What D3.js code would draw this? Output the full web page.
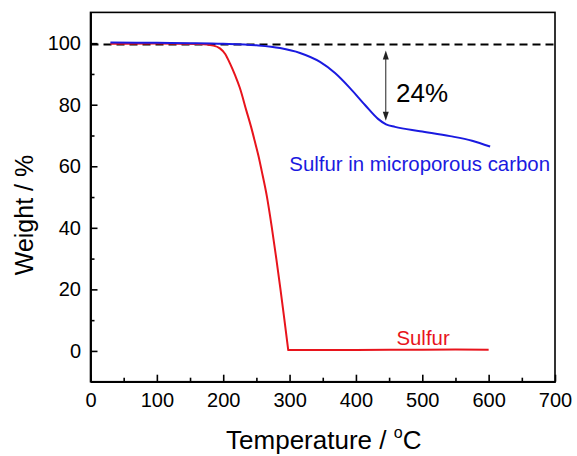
<!DOCTYPE html>
<html>
<head>
<meta charset="utf-8">
<script src="https://cdn.jsdelivr.net/npm/d3@7"></script>
<style>
  html, body { margin: 0; padding: 0; background: #fff; }
  svg { display: block; font-family: "Liberation Sans", Arial, sans-serif; }
</style>
</head>
<body>
<svg id="chart" width="577" height="456"></svg>
<script>
// ---- data ----
const sulfurTemp   = [30, 100, 165, 185, 195, 203, 210, 218, 225, 235, 242, 248, 253, 258, 266, 273, 280, 286, 292, 298, 350, 400, 450, 500, 550, 600];
const sulfurWeight = [99.8, 99.9, 99.7, 99.2, 98.3, 96.5, 93.5, 89.5, 85.5, 78.0, 72.8, 67.8, 63.5, 58.5, 50.0, 40.5, 30.0, 20.5, 10.5, 0.3, 0.3, 0.3, 0.4, 0.4, 0.5, 0.4];
const sulfurKnee = 298; // temperature where the sulfur is fully gone

const compTemp   = [30, 100, 150, 200, 250, 285.6, 315.7, 345.9, 368.5, 391.1, 413.7, 433.3, 445.4, 458.9, 496.6, 541.9, 575, 602.2];
const compWeight = [100.2, 100.1, 100.0, 99.8, 99.3, 98.4, 96.8, 93.9, 90.3, 85.4, 79.9, 75.4, 73.6, 72.8, 71.4, 69.8, 68.3, 66.4];

const referenceWeight = 99.6;
const arrowTemp = 445;
const arrowRange = [97.6, 74.8];

const xMajorTicks = [0, 100, 200, 300, 400, 500, 600, 700];
const xMinorTicks = [50, 150, 250, 350, 450, 550, 650];
const yMajorTicks = [0, 20, 40, 60, 80, 100];
const yMinorTicks = [10, 30, 50, 70, 90];

const labels = [
  { text: "24%", t: 460.4, w: 81.0, size: 26, color: "#000", anchor: "start" },
  { text: "Sulfur in microporous carbon", t: 692.5, w: 58.6, size: 20.4, color: "#1a1ae0", anchor: "end" },
  { text: "Sulfur", t: 461.0, w: 1.9, size: 20.4, color: "#e8141c", anchor: "start" }
];

// ---- layout ----
const svg = d3.select("#chart");
const L = 90.5, R = 555, T = 12.4, B = 381.7;
const x = d3.scaleLinear().domain([0, 700]).range([L, R]);
const y = d3.scaleLinear().domain([-10, 110]).range([B, T]);

// frame
svg.append("rect")
  .attr("x", L).attr("y", T).attr("width", R - L).attr("height", B - T)
  .attr("fill", "none").attr("stroke", "#000").attr("stroke-width", 1.6);

// axes
const xAxis = svg.append("g").attr("transform", `translate(0,${B})`)
  .call(d3.axisBottom(x).tickValues(xMajorTicks).tickSizeInner(-7).tickSizeOuter(0).tickPadding(11));
const xMinor = svg.append("g").attr("transform", `translate(0,${B})`)
  .call(d3.axisBottom(x).tickValues(xMinorTicks).tickSizeInner(-4).tickSizeOuter(0).tickFormat(""));
const yAxis = svg.append("g").attr("transform", `translate(${L},0)`)
  .call(d3.axisLeft(y).tickValues(yMajorTicks).tickSizeInner(-7).tickSizeOuter(0).tickPadding(9.5));
const yMinor = svg.append("g").attr("transform", `translate(${L},0)`)
  .call(d3.axisLeft(y).tickValues(yMinorTicks).tickSizeInner(-4).tickSizeOuter(0).tickFormat(""));

[xAxis, xMinor, yAxis, yMinor].forEach(g => {
  g.select(".domain").attr("stroke", "#000").attr("stroke-width", 1.6);
  g.selectAll(".tick line").attr("stroke", "#000").attr("stroke-width", 1.6);
  g.selectAll(".tick text").attr("fill", "#000").style("font-size", "20px")
    .style("font-family", "'Liberation Sans', Arial, sans-serif");
});

// axis titles
const xt = svg.append("text")
  .attr("x", (L + R) / 2 + 1).attr("y", 449)
  .attr("text-anchor", "middle").style("font-size", "26px").attr("fill", "#000");
xt.append("tspan").text("Temperature / ");
xt.append("tspan").text("o").style("font-size", "16px").attr("dy", -11);
xt.append("tspan").text("C").attr("dy", 11);

svg.append("text")
  .attr("transform", `translate(33,${(T + B) / 2 + 18}) rotate(-90)`)
  .attr("text-anchor", "middle").style("font-size", "25px").attr("fill", "#000")
  .text("Weight / %");

// dashed reference line
svg.append("line")
  .attr("x1", x(0)).attr("x2", x(700))
  .attr("y1", y(referenceWeight)).attr("y2", y(referenceWeight))
  .attr("stroke", "#000").attr("stroke-width", 2).attr("stroke-dasharray", "8,5");

// curves
const smooth = d3.line().x(d => x(d[0])).y(d => y(d[1])).curve(d3.curveMonotoneX);
const straight = d3.line().x(d => x(d[0])).y(d => y(d[1]));
const sulfurPts = sulfurTemp.map((t, i) => [t, sulfurWeight[i]]);
const dropPart = sulfurPts.filter(d => d[0] <= sulfurKnee);
const flatPart = sulfurPts.filter(d => d[0] >= sulfurKnee);
svg.append("path")
  .attr("d", smooth(dropPart) + straight(flatPart).replace(/^M/, "L"))
  .attr("fill", "none").attr("stroke", "#e8141c").attr("stroke-width", 2)
  .attr("stroke-linejoin", "round");
svg.append("path")
  .datum(compTemp.map((t, i) => [t, compWeight[i]]))
  .attr("d", smooth).attr("fill", "none").attr("stroke", "#1a1ae0").attr("stroke-width", 2);

// double arrow
const ax = x(arrowTemp), ay1 = y(arrowRange[0]), ay2 = y(arrowRange[1]);
svg.append("line").attr("x1", ax).attr("x2", ax).attr("y1", ay1 + 6).attr("y2", ay2 - 6)
  .attr("stroke", "#222").attr("stroke-width", 1);
svg.append("path").attr("d", `M${ax},${ay1} L${ax - 3},${ay1 + 9} L${ax + 3},${ay1 + 9} Z`).attr("fill", "#222");
svg.append("path").attr("d", `M${ax},${ay2} L${ax - 3},${ay2 - 9} L${ax + 3},${ay2 - 9} Z`).attr("fill", "#222");

// labels
svg.selectAll("text.lbl").data(labels).enter().append("text")
  .attr("class", "lbl")
  .attr("x", d => x(d.t)).attr("y", d => y(d.w))
  .attr("text-anchor", d => d.anchor)
  .style("font-size", d => d.size + "px")
  .attr("fill", d => d.color)
  .text(d => d.text);
</script>
</body>
</html>
